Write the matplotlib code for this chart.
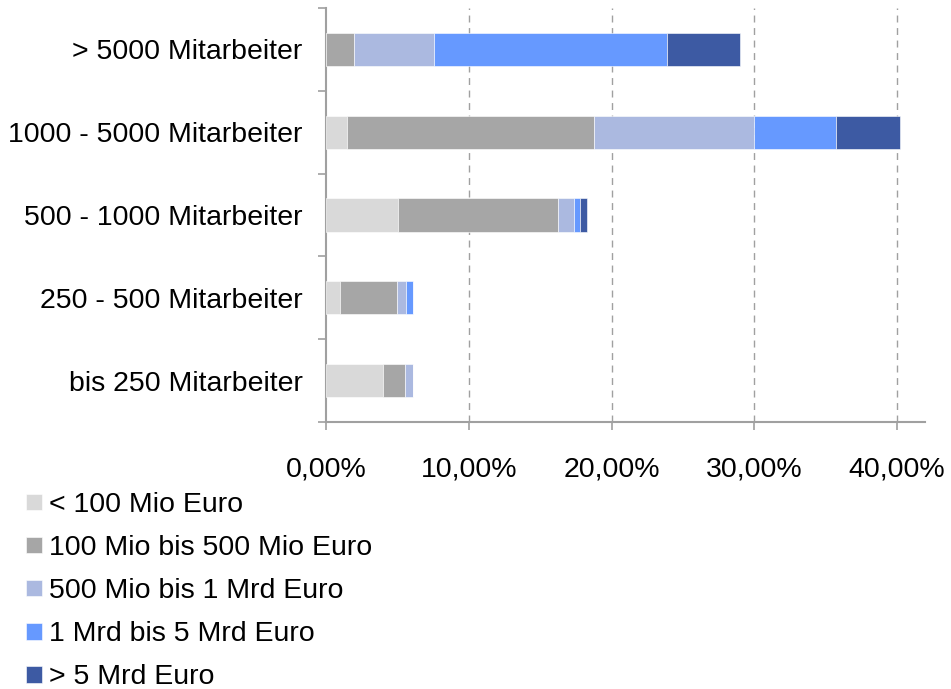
import matplotlib
matplotlib.use("Agg")
import matplotlib.pyplot as plt
import numpy as np
from matplotlib.ticker import FuncFormatter, FixedLocator

plt.rcParams['font.family'] = ['Liberation Sans', 'DejaVu Sans']

categories = ["bis 250 Mitarbeiter", "250 - 500 Mitarbeiter", "500 - 1000 Mitarbeiter",
              "1000 - 5000 Mitarbeiter", "> 5000 Mitarbeiter"]
series_names = ["< 100 Mio Euro", "100 Mio bis 500 Mio Euro", "500 Mio bis 1 Mrd Euro",
                "1 Mrd bis 5 Mrd Euro", "> 5 Mrd Euro"]
s_lt100 = [3.97, 1.00, 5.04, 1.47, 0.00]
s_100_500 = [1.56, 3.99, 11.23, 17.33, 1.96]
s_500_1000 = [0.54, 0.61, 1.10, 11.20, 5.63]
s_1_5 = [0.00, 0.49, 0.42, 5.70, 16.31]
s_gt5 = [0.00, 0.00, 0.49, 4.50, 5.10]
colors = ["#D9D9D9", "#A6A6A6", "#ABB9E0", "#6699FF", "#3D5AA3"]
x_ticks = [0, 10, 20, 30, 40]

FS = 20.5

fig = plt.figure(figsize=(9.51, 6.89), dpi=100)
ax = fig.add_axes([326/951, 1-422/689, (925-326)/951, (422-8)/689])

y = np.arange(len(categories))
left = np.zeros(len(categories))
for name, vals, c in zip(series_names, [s_lt100, s_100_500, s_500_1000, s_1_5, s_gt5], colors):
    ax.barh(y, vals, left=left, height=0.4, color=c, label=name, edgecolor='white', linewidth=0.4, zorder=3)
    left += np.array(vals)

ax.set_xlim(0, 41.95)
ax.set_ylim(-0.5, len(categories)-0.5)
ax.xaxis.set_major_locator(FixedLocator(x_ticks))
ax.xaxis.set_major_formatter(FuncFormatter(lambda v, p: f"{v:.2f}".replace('.', ',') + "%"))
for xv in x_ticks[1:]:
    ax.axvline(xv, color='#A0A0A0', linestyle=(0, (5, 4)), linewidth=1.0, zorder=1)

ax.set_yticks(np.arange(-0.5, len(categories)), minor=False)
ax.set_yticklabels([])
ax.set_yticks(y, minor=True)
ax.set_yticklabels(categories, minor=True)
ax.tick_params(axis='y', which='major', direction='out', length=6, color='#A0A0A0', width=1.2)
ax.tick_params(axis='y', which='minor', length=0, pad=17, labelsize=FS, labelcolor='black')
ax.tick_params(axis='x', which='major', direction='out', length=6, color='#A0A0A0', width=1.2,
               pad=19, labelsize=FS)

for s in ['top', 'right']:
    ax.spines[s].set_visible(False)
for s in ['left', 'bottom']:
    ax.spines[s].set_color('#A0A0A0')
    ax.spines[s].set_linewidth(1.5)

handles, labels = ax.get_legend_handles_labels()
leg = fig.legend(handles, labels, loc='upper left', bbox_to_anchor=(26/951, 1-492/689),
                 frameon=False, fontsize=FS, handlelength=0.56, handleheight=0.53,
                 handletextpad=0.25, labelspacing=0.60, borderaxespad=0, borderpad=0)

fig.savefig("out.png", dpi=100)
